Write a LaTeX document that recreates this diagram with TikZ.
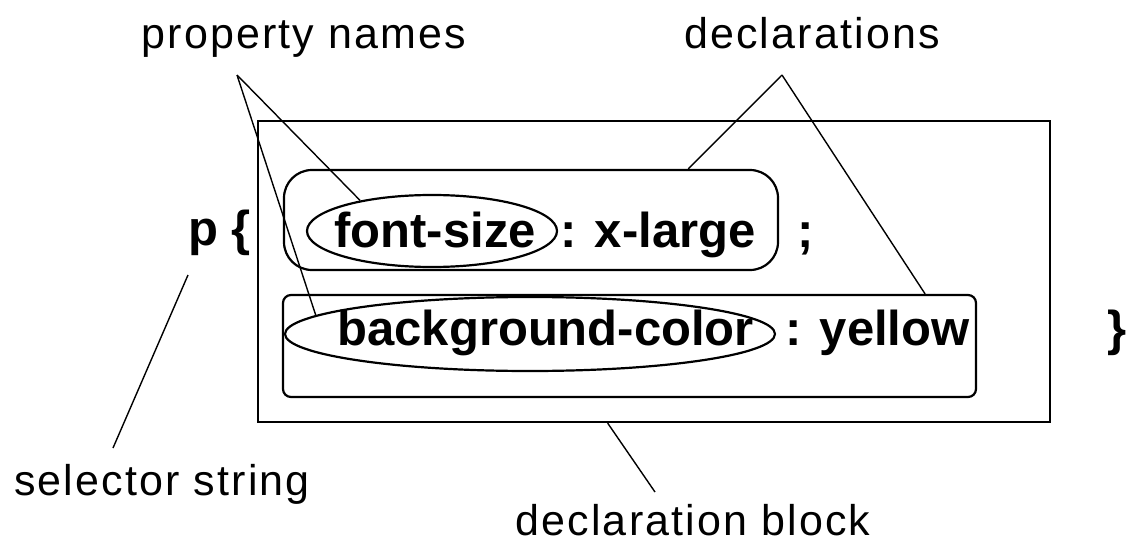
\documentclass[tikz,border=0pt]{standalone}
\usepackage{fontspec}
\setmainfont{Liberation Sans}
\newfontfamily\labelfont[LetterSpace=5]{Liberation Sans}
\usepackage{tikz}
\usetikzlibrary{shapes.geometric}

\begin{document}
\begin{tikzpicture}[x=0.5pt, y=-0.5pt,
    label/.style = {anchor=base, inner sep=0, font=\labelfont\fontsize{21.5}{24}\selectfont},
    code/.style = {anchor=base west, inner sep=0, font=\fontsize{24.5}{28}\selectfont\bfseries},
    prop/.style = {draw, ellipse, line width=1.1pt, inner sep=0},
    decl/.style = {draw, rectangle, line width=1.1pt, inner sep=0},
    pointer/.style = {line width=0.7pt}]
            \useasboundingbox (0,0) rectangle (1126,546);
            % Boxes
            \node[decl, minimum width=396pt, minimum height=150.5pt] (block) at (654,271.5) {};
            \node[decl, rounded corners=14pt, minimum width=247pt, minimum height=50pt] (decl1) at (531,220) {};
            \node[decl, rounded corners=4pt, minimum width=346.5pt, minimum height=51pt] (decl2) at (629.5,346) {};
            \node[prop, minimum width=125pt, minimum height=36pt] (prop1) at (432,231) {};
            \node[prop, minimum width=245pt, minimum height=37pt] (prop2) at (530,334) {};
            % Code
            \node[code] (sel) at (188,245) {p \{};
            \node[code] (fs) at (334,247) {font-size};
            \node[code] (xl) at (560,247) {: x-large};
            \node[code] (semi) at (797,247) {;};
            \node[code] (bg) at (337,345) {background-color};
            \node[code] (yel) at (785,345) {: yellow};
            \node[code] (close) at (1107,345) {\}};
            % Labels
            \node[label] (pnames) at (304,48) {property names};
            \node[label] (decls) at (812,48) {declarations};
            \node[label] (selstr) at (162,495) {selector string};
            \node[label] (dblock) at (693,535) {declaration block};
            \coordinate (papex) at (237,75);
            \coordinate (dapex) at (782,75);
            \coordinate (stop) at (188,275);
            \coordinate (sbot) at (113,448);
            \coordinate (bend) at (655,492);
            % Pointers
            \draw[pointer] (papex) -- (prop1.157);
            \draw[pointer] (papex) -- (prop2.175);
            \draw[pointer] (dapex) -- (decl1.18);
            \draw[pointer] (dapex) -- (decl2.10.6);
            \draw[pointer] (stop) -- (sbot);
            \draw[pointer] (block.253.7) -- (bend);
            \end{tikzpicture}
\end{document}
